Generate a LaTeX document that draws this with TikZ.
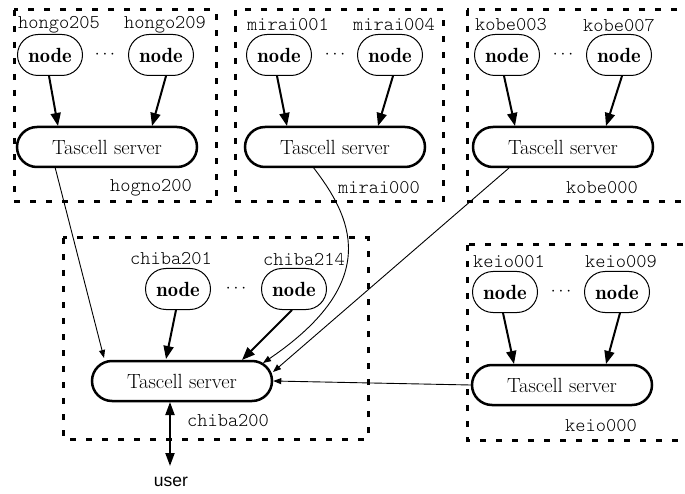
\documentclass[tikz,border=0pt]{standalone}
\usepackage{fontspec}
\newfontfamily\userfont{Liberation Sans}
\newfontfamily\hostfont{Latin Modern Mono Light}
\newfontfamily\nodefont{Latin Modern Roman Demi}
\usetikzlibrary{shapes.misc,arrows.meta}
\begin{document}
\begin{tikzpicture}[x=1pt,y=-1pt,
  cnode/.style={rounded rectangle,draw,line width=1pt,minimum width=65pt,minimum height=41pt,inner sep=0pt,font=\nodefont\fontsize{20.5}{22}\selectfont},
  server/.style={rounded rectangle,draw,line width=2.5pt,minimum width=180pt,minimum height=40pt,inner sep=0pt,font=\fontsize{20.5}{22}\selectfont},
  host/.style={font=\hostfont\fontsize{19.5}{20}\selectfont,inner sep=0pt},
  grp/.style={line width=3pt,dash pattern=on 6pt off 10pt},
  thickarr/.style={line width=2pt,-{Triangle[length=13pt,width=10pt]}},
  thinarr/.style={line width=0.9pt,-{Triangle[length=8pt,width=6pt]}},
  dots/.style={font=\fontsize{18.5}{20}\selectfont,inner sep=0pt}
]
\clip (0,0) rectangle (685,494);
\fill[white] (0,0) rectangle (685,494);
% groups
\draw[grp] (14,10) rectangle (216,202);
\draw[grp] (235,10) rectangle (443,202);
\draw[grp] (467,10) rectangle (700,202);
\draw[grp] (63,238) rectangle (368,439);
\draw[grp] (467,245) rectangle (700,440);
% hongo
\node[host] (lh1) at (59,25) {hongo205};
\node[host] (lh2) at (165,25) {hongo209};
\node[cnode] (h1) at (50,55) {node};
\node[cnode] (h2) at (161,55) {node};
\node[dots] (hd) at (105,55) {$\cdots$};
\node[server] (hs) at (107,147) {Tascell server};
\node[host] (lh0) at (151,188) {hogno200};
\draw[thickarr] (h1.south) ++(-1,0) -- (58,126);
\draw[thickarr] (h2.south) ++(5,0) -- (152,126);
% mirai
\node[host] (lm1) at (288,25) {mirai001};
\node[host] (lm2) at (394,25) {mirai004};
\node[cnode] (m1) at (279,55) {node};
\node[cnode] (m2) at (390,55) {node};
\node[dots] (md) at (335,55) {$\cdots$};
\node[server] (ms) at (335,147) {Tascell server};
\node[host] (lm0) at (379,188) {mirai000};
\draw[thickarr] (m1.south) ++(-2,0) -- (287,126);
\draw[thickarr] (m2.south) ++(3,0) -- (378,126);
% kobe
\node[host] (lk1) at (511,25) {kobe003};
\node[host] (lk2) at (619,25) {kobe007};
\node[cnode] (k1) at (507,55) {node};
\node[cnode] (k2) at (619,55) {node};
\node[dots] (kd) at (563,55) {$\cdots$};
\node[server] (ks) at (563,147) {Tascell server};
\node[host] (lk0) at (602,188) {kobe000};
\draw[thickarr] (k1.south) ++(-3,0) -- (515,126);
\draw[thickarr] (k2.south) ++(3,0) -- (606,126);
% chiba
\node[host] (lc1) at (171,259) {chiba201};
\node[host] (lc2) at (304,259) {chiba214};
\node[cnode] (c1) at (178,289) {node};
\node[cnode] (c2) at (294,289) {node};
\node[dots] (cd) at (236,289) {$\cdots$};
\node[server] (cs) at (182,381) {Tascell server};
\node[host] (lc0) at (228,421) {chiba200};
\draw[thickarr] (c1.south) ++(-2,0) -- (166,359);
\draw[thickarr] (c2.south) ++(-2,0) -- (242,360);
% keio
\node[host] (le1) at (509,262) {keio001};
\node[host] (le2) at (621,262) {keio009};
\node[cnode] (e1) at (505,292) {node};
\node[cnode] (e2) at (617,292) {node};
\node[dots] (ed) at (561,292) {$\cdots$};
\node[server] (es) at (562,385) {Tascell server};
\node[host] (le0) at (601,426) {keio000};
\draw[thickarr] (e1.south) ++(-2,0) -- (514,364);
\draw[thickarr] (e2.south) ++(3,0) -- (606,364);
% inter-server connectors
\draw[thinarr] (55,167) -- (104,358);
\draw[thinarr] (313,167) .. controls (350,215) and (385,280) .. (263,363);
\draw[thinarr] (509,168) -- (273,372);
\draw[thinarr] (es.west) -- (cs.east);
% user
\node[font=\userfont\fontsize{17.5}{18}\selectfont,inner sep=0pt] (user) at (171,482) {user};
\coordinate (ua) at (170,402);
\coordinate (ub) at (170,466);
\draw[line width=2pt,{Triangle[length=13pt,width=9pt]}-{Triangle[length=13pt,width=9pt]}] (ua) -- (ub);
\end{tikzpicture}
\end{document}
